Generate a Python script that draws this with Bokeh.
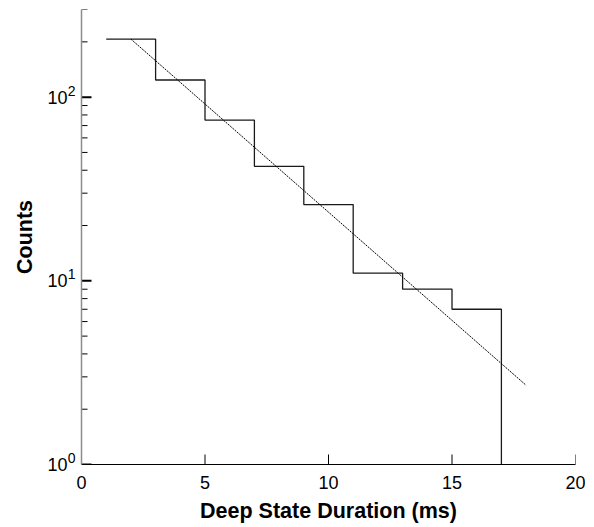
import math
from bokeh.plotting import figure
from bokeh.models import Range1d, FixedTicker, LogAxis, LogScale
from bokeh.embed import file_html
from bokeh.resources import INLINE

# Histogram (step) data
bin_edges = [1, 3, 5, 7, 9, 11, 13, 15, 17]
counts = [207, 124, 75, 42, 26, 11, 9, 7]
baseline = 1

# Exponential fit line endpoints
fit_x = [2, 18]
fit_y = [207, 2.7]

x_ticks = [0, 5, 10, 15, 20]
y_major = [1, 10, 100]
y_minor = [2, 3, 4, 5, 6, 7, 8, 9, 20, 30, 40, 50, 60, 70, 80, 90, 200, 300]
y_base_text = ["10", "10", "10"]
y_exp_text = ["0", "1", "2"]

x_start, x_end = 0, 20
y_start, y_end = 1, 300

p = figure(width=585, height=525, y_axis_type="log", y_axis_location=None,
           x_range=Range1d(x_start, x_end), y_range=Range1d(y_start, y_end),
           output_backend="svg", toolbar_location=None,
           min_border_left=81, min_border_right=10, min_border_top=9, min_border_bottom=60)

p.outline_line_color = None
p.grid.visible = False
p.background_fill_color = "white"

step_x = bin_edges
step_y = counts + [baseline]
p.step(step_x, step_y, mode="after", line_color="#1a1a1a", line_width=1.3)
p.line(fit_x, fit_y, line_color="black", line_width=1, line_dash="2 1")

# inward tick marks drawn from the tick lists
p.ray(x=[x_start] * len(y_major), y=y_major, length=10, length_units="screen",
      angle=0, line_color="black", line_width=2)
p.ray(x=[x_start] * len(y_minor), y=y_minor, length=6, length_units="screen",
      angle=0, line_color="black", line_width=1)
p.ray(x=x_ticks, y=[y_start] * len(x_ticks), length=10, length_units="screen",
      angle=math.pi / 2, line_color="black", line_width=1)

font = "Liberation Sans"

xa = p.xaxis[0]
xa.ticker = FixedTicker(ticks=x_ticks)
xa.major_tick_in = 0
xa.major_tick_out = 0
xa.minor_tick_line_color = None
xa.axis_line_color = "black"
xa.axis_line_width = 1.2
xa.major_label_text_font = font
xa.major_label_text_font_size = "18px"
xa.major_label_text_color = "black"
xa.major_label_standoff = 11
xa.axis_label = "Deep State Duration (ms)"
xa.axis_label_text_font = font
xa.axis_label_text_font_style = "bold"
xa.axis_label_text_font_size = "21.5px"
xa.axis_label_text_color = "black"
xa.axis_label_standoff = 7

# superscript exponents: an inner axis on a range shifted a few pixels so labels sit raised
shift = 10 ** (6.5 / 184.0)
p.extra_y_ranges = {"sup": Range1d(y_start / shift, y_end / shift)}
p.extra_y_scales = {"sup": LogScale()}

sup_axis = LogAxis(y_range_name="sup")
sup_axis.ticker = FixedTicker(ticks=y_major, minor_ticks=[])
sup_axis.major_label_overrides = dict(zip(y_major, y_exp_text))
sup_axis.major_tick_in = 0
sup_axis.major_tick_out = 0
sup_axis.minor_tick_in = 0
sup_axis.minor_tick_out = 0
sup_axis.axis_line_color = "#8c8c8c"
sup_axis.axis_line_width = 1.5
sup_axis.major_label_text_font = font
sup_axis.major_label_text_font_size = "14px"
sup_axis.major_label_text_color = "black"
sup_axis.major_label_standoff = 6
p.add_layout(sup_axis, "left")

base_axis = LogAxis()
base_axis.ticker = FixedTicker(ticks=y_major, minor_ticks=[])
base_axis.major_label_overrides = dict(zip(y_major, y_base_text))
base_axis.major_tick_in = 0
base_axis.major_tick_out = 0
base_axis.minor_tick_in = 0
base_axis.minor_tick_out = 0
base_axis.axis_line_color = None
base_axis.major_label_text_font = font
base_axis.major_label_text_font_size = "18px"
base_axis.major_label_text_color = "black"
base_axis.major_label_standoff = -3
base_axis.axis_label = "Counts"
base_axis.axis_label_text_font = font
base_axis.axis_label_text_font_style = "bold"
base_axis.axis_label_text_font_size = "21.5px"
base_axis.axis_label_text_color = "black"
base_axis.axis_label_standoff = 7
p.add_layout(base_axis, "left")

open("out.html", "w").write(file_html(p, INLINE))
